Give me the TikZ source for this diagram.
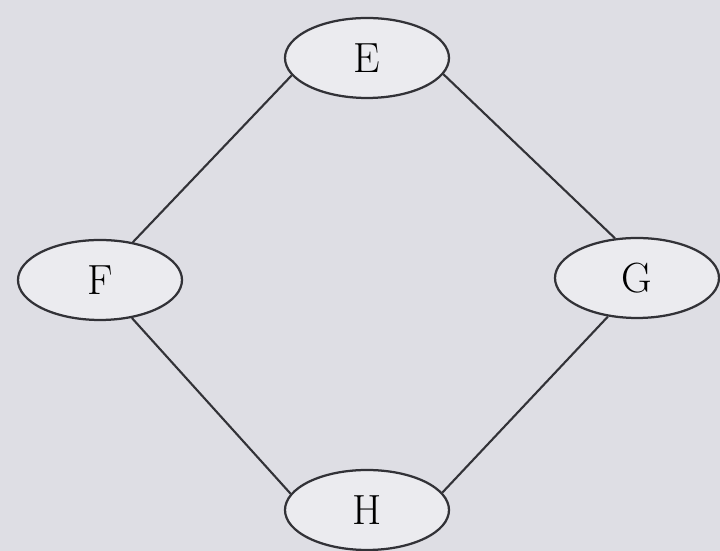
\documentclass[tikz,border=0pt]{standalone}
\usepackage{tikz}
\usetikzlibrary{shapes.geometric}
\definecolor{PaperGray}{RGB}{222,222,228}
\definecolor{InkGray}{RGB}{50,50,55}

\begin{document}
\begin{tikzpicture}[
    vert/.style={ellipse, draw=InkGray, fill=PaperGray!60, line width=1.6pt, minimum width=4.1cm, minimum height=2cm, font=\fontsize{30}{36}\selectfont, inner sep=0pt},
    edge/.style={line width=1.5pt, InkGray}
]
    % photo-like background, fixes the margins
    \fill[PaperGray] (0,0) rectangle (18,13.775);
    \useasboundingbox (0,0) rectangle (18,13.775);
    \node[vert] (e) at (9.175,12.325) {E};
    \node[vert] (f) at (2.5,6.775)    {F};
    \node[vert] (g) at (15.925,6.825) {G};
    \node[vert] (h) at (9.175,1.025)  {H};
    \draw[edge] (e.-167) -- (f.49);
    \draw[edge] (e.-12)  -- (g.119);
    \draw[edge] (f.-50)  -- (h.168);
    \draw[edge] (g.-127) -- (h.13);
\end{tikzpicture}
\end{document}
